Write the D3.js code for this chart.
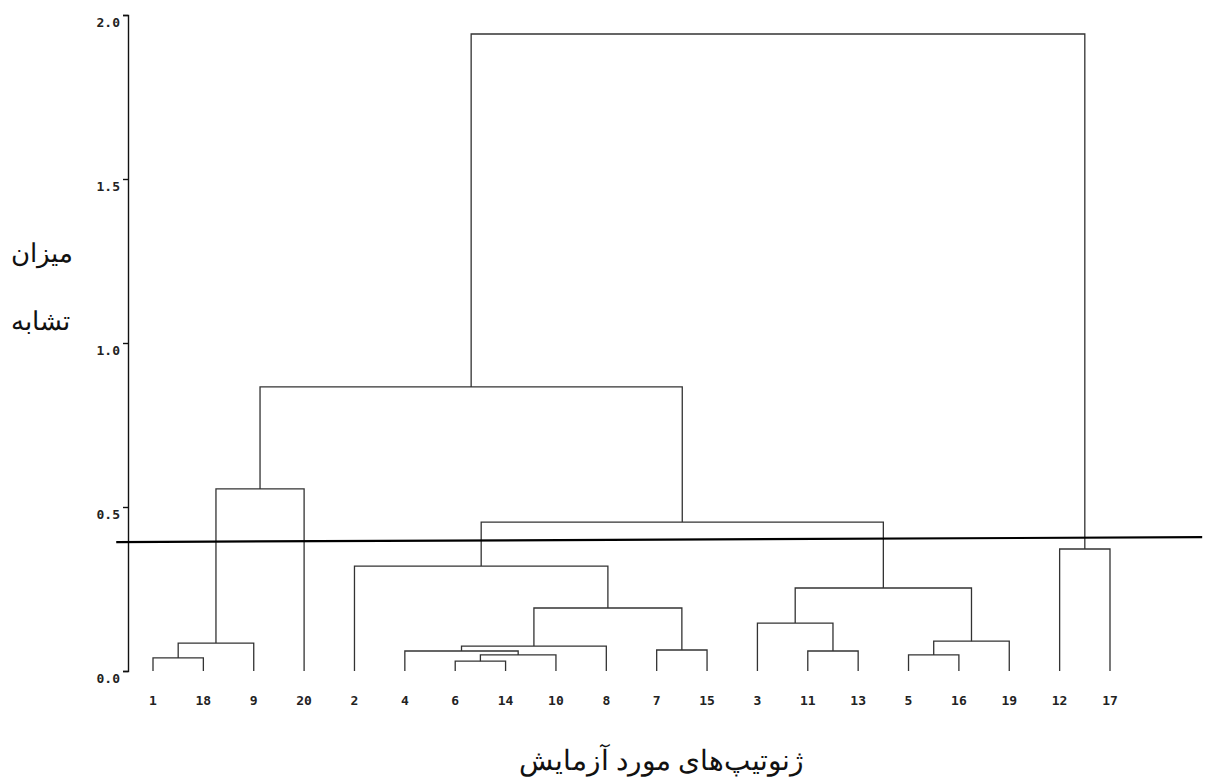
<!DOCTYPE html>
<html><head>
<meta charset="utf-8">
<title>dendrogram</title>
<script src="https://d3js.org/d3.v7.min.js"></script>
<style>
  body { margin:0; background:#fff; }
  .tick text, .leaf { font-family:"DejaVu Sans Mono", monospace; font-weight:bold; font-size:13px; fill:#222; }
  .fa { font-family:"Times New Roman", "DejaVu Serif", serif; fill:#111; }
</style>
</head>
<body>
<svg width="1207" height="780"></svg>
<script>
// leaf order along the x axis
var leaves = ["1","18","9","20","2","4","6","14","10","8","7","15","3","11","13","5","16","19","12","17"];

// merges: [left, right, height]; "mN" refers to the N-th merge
var merges = [
  ["1","18",0.040],    // m0
  ["m0","9",0.085],    // m1
  ["m1","20",0.555],   // m2
  ["6","14",0.030],    // m3
  ["m3","10",0.049],   // m4
  ["4","m4",0.061],    // m5
  ["m5","8",0.076],    // m6
  ["7","15",0.064],    // m7
  ["m6","m7",0.192],   // m8
  ["2","m8",0.320],    // m9
  ["11","13",0.061],   // m10
  ["3","m10",0.146],   // m11
  ["5","16",0.049],    // m12
  ["m12","19",0.091],  // m13
  ["m11","m13",0.253], // m14
  ["m9","m14",0.454],  // m15
  ["m2","m15",0.866],  // m16
  ["12","17",0.372],   // m17
  ["m16","m17",1.942]  // m18
];

var yTicks = [0, 0.5, 1.0, 1.5, 2.0];
// cut line: [leaf index, height] at both ends
var cutLine = [[-0.73, 0.393], [20.83, 0.408]];

var yTitle = ["میزان", "تشابه"];
var xTitle = "ژنوتیپ‌های مورد آزمایش";

var svg = d3.select("svg");

var x = d3.scaleLinear().domain([0, leaves.length-1]).range([153, 1110]);
var y = d3.scaleLinear().domain([0, 2]).range([671, 15]);

// node positions
var pos = {};
leaves.forEach(function(l, i){ pos[l] = {x: x(i), h: 0}; });

var links = [];
merges.forEach(function(m, i){
  var a = pos[m[0]], b = pos[m[1]], h = m[2];
  links.push([[a.x, y(a.h)], [a.x, y(h)], [b.x, y(h)], [b.x, y(b.h)]]);
  pos["m"+i] = {x: (a.x + b.x)/2, h: h};
});

svg.append("g").selectAll("path")
  .data(links)
  .enter().append("path")
  .attr("d", d3.line())
  .attr("fill", "none")
  .attr("stroke", "#333")
  .attr("stroke-width", 1.3);

// y axis
var yAxis = d3.axisLeft(y).tickValues(yTicks).tickFormat(d3.format(".1f")).tickSize(5).tickSizeOuter(5).tickPadding(3);
var ga = svg.append("g").attr("transform", "translate(128,0)").call(yAxis);
ga.select(".domain").attr("stroke", "#111").attr("stroke-width", 1.4);
ga.selectAll(".tick line").attr("stroke", "#111").attr("stroke-width", 1.4);
ga.selectAll(".tick text").attr("dy", null).attr("y", 11).attr("x", -8);

// leaf labels
svg.append("g").selectAll("text")
  .data(leaves)
  .enter().append("text")
  .attr("class", "leaf")
  .attr("x", function(d, i){ return x(i); })
  .attr("y", 705)
  .attr("text-anchor", "middle")
  .text(function(d){ return d; });

// cut line
svg.append("path")
  .datum(cutLine)
  .attr("d", d3.line().x(function(d){ return x(d[0]); }).y(function(d){ return y(d[1]); }))
  .attr("stroke", "#000")
  .attr("stroke-width", 2.2)
  .attr("fill", "none");

// titles
svg.append("text").attr("class", "fa")
  .attr("x", 42).attr("y", 262)
  .attr("text-anchor", "middle").attr("font-size", 26)
  .text(yTitle[0]);
svg.append("text").attr("class", "fa")
  .attr("x", 40).attr("y", 330)
  .attr("text-anchor", "middle").attr("font-size", 26)
  .text(yTitle[1]);
svg.append("text").attr("class", "fa")
  .attr("x", 661).attr("y", 770)
  .attr("text-anchor", "middle").attr("font-size", 28)
  .text(xTitle);
</script>
</body>
</html>
